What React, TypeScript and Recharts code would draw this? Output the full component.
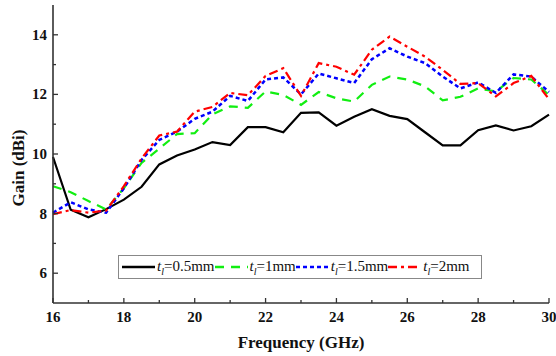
import { LineChart, Line, XAxis, YAxis } from "recharts";

const freq = [
  16, 16.5, 17, 17.5, 18, 18.5, 19, 19.5, 20, 20.5, 21, 21.5, 22, 22.5, 23,
  23.5, 24, 24.5, 25, 25.5, 26, 26.5, 27, 27.5, 28, 28.5, 29, 29.5, 30,
];
const t05 = [
  9.9, 8.13, 7.88, 8.15, 8.47, 8.9, 9.65, 9.95, 10.15, 10.4, 10.3, 10.9, 10.9,
  10.73, 11.38, 11.4, 10.95, 11.25, 11.5, 11.28, 11.17, 10.73, 10.29, 10.29,
  10.8, 10.96, 10.79, 10.93, 11.32,
];
const t1 = [
  8.92, 8.72, 8.42, 8.14, 8.85, 9.7, 10.18, 10.67, 10.7, 11.33, 11.6, 11.55,
  12.1, 11.98, 11.65, 12.08, 11.87, 11.76, 12.32, 12.6, 12.5, 12.27, 11.8,
  11.92, 12.2, 12.1, 12.55, 12.5, 11.98,
];
const t15 = [
  8.03, 8.38, 8.14, 8.03, 8.85, 9.8, 10.47, 10.75, 11.18, 11.42, 11.95, 11.78,
  12.5, 12.57, 12.0, 12.7, 12.54, 12.38, 13.18, 13.55, 13.27, 13.05, 12.6,
  12.2, 12.4, 12.05, 12.67, 12.6, 12.08,
];
const t2 = [
  7.98, 8.12, 8.03, 8.1, 8.92, 9.85, 10.62, 10.75, 11.42, 11.58, 12.05, 11.97,
  12.62, 12.88, 11.95, 13.05, 12.93, 12.66, 13.5, 13.94, 13.6, 13.27, 12.82,
  12.35, 12.38, 11.93, 12.38, 12.62, 11.84,
];
const xTicks = [16, 17, 18, 19, 20, 21, 22, 23, 24, 25, 26, 27, 28, 29, 30];
const yTicks = [6, 7, 8, 9, 10, 11, 12, 13, 14];

const series = [
  { key: "t05", label: "=0.5mm", color: "#000000", dash: undefined, width: 2.2 },
  { key: "t1", label: "=1mm", color: "#11ee11", dash: "9 7", width: 2.2 },
  { key: "t15", label: "=1.5mm", color: "#0000ff", dash: "4 3", width: 2.5 },
  { key: "t2", label: "=2mm", color: "#ff0000", dash: "9 4 3 4", width: 2.2 },
];

const data = freq.map((f, i) => ({
  f,
  t05: t05[i],
  t1: t1[i],
  t15: t15[i],
  t2: t2[i],
}));

const serif = "'Times New Roman', 'Liberation Serif', serif";
const axisColor = "#333";
const boldText = { fontFamily: serif, fontWeight: 700 };

const BottomTick = (p: any) => {
  const v = p.payload.value;
  const major = v % 2 === 0;
  return (
    <g>
      <line x1={p.x} x2={p.x} y1={p.y} y2={p.y - (major ? 5 : 3)} stroke={axisColor} strokeWidth={1.3} />
      {major && (
        <text x={p.x} y={p.y + 19} textAnchor="middle" style={boldText} fontSize={15} fill="#111">
          {v}
        </text>
      )}
    </g>
  );
};

const TopTick = (p: any) => {
  const major = p.payload.value % 2 === 0;
  return <line x1={p.x} x2={p.x} y1={p.y} y2={p.y + (major ? 5 : 3)} stroke={axisColor} strokeWidth={1.3} />;
};

const LeftTick = (p: any) => {
  const v = p.payload.value;
  const major = v % 2 === 0;
  return (
    <g>
      <line x1={p.x} x2={p.x + (major ? 5 : 3)} y1={p.y} y2={p.y} stroke={axisColor} strokeWidth={1.3} />
      {major && (
        <text x={p.x - 6} y={p.y + 5} textAnchor="end" style={boldText} fontSize={15} fill="#111">
          {v}
        </text>
      )}
    </g>
  );
};

const RightTick = (p: any) => {
  const major = p.payload.value % 2 === 0;
  return <line x1={p.x} x2={p.x - (major ? 5 : 3)} y1={p.y} y2={p.y} stroke={axisColor} strokeWidth={1.3} />;
};

const axisLine = { stroke: axisColor, strokeWidth: 1.6 };

export default function App() {
  return (
    <div style={{ position: "absolute", left: 0, top: 0, width: 556, height: 356, background: "#fff" }}>
      <LineChart width={556} height={356} data={data} margin={{ top: 5, right: 7, bottom: 0, left: 0 }}>
        <XAxis
          dataKey="f"
          type="number"
          domain={[16, 30]}
          ticks={xTicks}
          interval={0}
          height={53}
          tickSize={0}
          tickMargin={0}
          tickLine={false}
          axisLine={axisLine}
          tick={<BottomTick />}
          label={{
            content: () => (
              <text x={301} y={348} textAnchor="middle" style={boldText} fontSize={17} fill="#111">
                Frequency (GHz)
              </text>
            ),
          }}
        />
        <XAxis
          xAxisId="top"
          orientation="top"
          dataKey="f"
          type="number"
          domain={[16, 30]}
          ticks={xTicks}
          interval={0}
          height={0}
          tickSize={0}
          tickMargin={0}
          tickLine={false}
          axisLine={axisLine}
          tick={<TopTick />}
        />
        <YAxis
          type="number"
          domain={[5, 15]}
          ticks={yTicks}
          interval={0}
          width={53}
          tickSize={0}
          tickMargin={0}
          tickLine={false}
          axisLine={axisLine}
          tick={<LeftTick />}
          label={{
            content: () => (
              <text
                x={0}
                y={0}
                transform="translate(24,168) rotate(-90)"
                textAnchor="middle"
                style={boldText}
                fontSize={17}
                fill="#111"
              >
                Gain (dBi)
              </text>
            ),
          }}
        />
        <YAxis
          yAxisId="right"
          orientation="right"
          type="number"
          domain={[5, 15]}
          ticks={yTicks}
          interval={0}
          width={0}
          tickSize={0}
          tickMargin={0}
          tickLine={false}
          axisLine={axisLine}
          tick={<RightTick />}
        />
        {series.map((s) => (
          <Line
            key={s.key}
            type="linear"
            dataKey={s.key}
            stroke={s.color}
            strokeWidth={s.width}
            strokeDasharray={s.dash}
            dot={false}
            isAnimationActive={false}
          />
        ))}
      </LineChart>
      <div
        style={{
          position: "absolute",
          left: 118,
          top: 255,
          width: 364,
          height: 24,
          border: "1px solid #888",
          background: "#fff",
          display: "flex",
          alignItems: "center",
          paddingLeft: 3,
          boxSizing: "border-box",
          fontFamily: serif,
          fontSize: 15,
          color: "#111",
          whiteSpace: "nowrap",
        }}
      >
        {series.map((s) => (
          <span key={s.key} style={{ display: "flex", alignItems: "center" }}>
            <svg width={33} height={10} style={{ marginRight: 2 }}>
              <line x1={0} x2={33} y1={5} y2={5} stroke={s.color} strokeWidth={2.5} strokeDasharray={s.dash} />
            </svg>
            <span>
              <i>t</i>
              <sub style={{ fontSize: 10, fontStyle: "italic" }}>l</sub>
              {s.label}
            </span>
          </span>
        ))}
      </div>
    </div>
  );
}
